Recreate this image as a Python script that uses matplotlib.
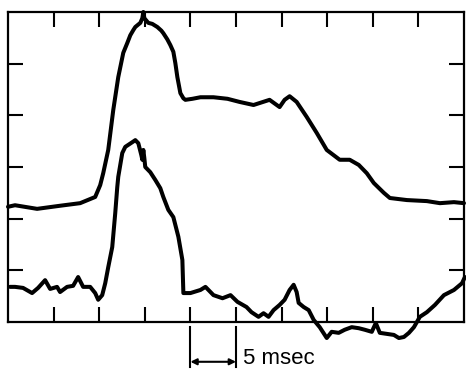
"""Two oscilloscope-style traces with a 5 msec scale bar."""

import matplotlib
matplotlib.use('Agg')
import matplotlib.pyplot as plt

# time in msec, amplitude in arbitrary units (frame spans 0..6)
upper_t = [0.0, 0.77, 3.19, 5.71, 7.91, 9.56, 10.11, 10.44, 10.99, 11.54, 12.09,
           12.64, 13.08, 13.41, 13.74, 13.96, 14.51, 14.73, 14.84, 14.95, 15.38,
           15.82, 16.37, 16.81, 17.03, 17.47, 17.80, 18.13, 18.35, 18.57, 18.90,
           19.23, 19.45, 20.22, 21.10, 22.53, 24.07, 25.38, 26.92, 28.68, 29.78,
           30.33, 30.88, 31.65, 32.75, 33.85, 34.95, 36.37, 37.47, 38.46, 39.34,
           40.11, 41.21, 41.87, 43.74, 45.93, 47.36, 48.90, 50.0]
upper_v = [2.23, 2.26, 2.19, 2.25, 2.30, 2.42, 2.65, 2.88, 3.33, 4.10, 4.74,
           5.21, 5.40, 5.55, 5.65, 5.71, 5.79, 5.88, 6.0, 5.88, 5.79,
           5.77, 5.71, 5.64, 5.59, 5.47, 5.36, 5.23, 5.01, 4.74, 4.43,
           4.33, 4.30, 4.32, 4.35, 4.35, 4.32, 4.26, 4.20, 4.30, 4.16,
           4.30, 4.37, 4.26, 3.97, 3.66, 3.33, 3.14, 3.14, 3.04, 2.88,
           2.69, 2.50, 2.40, 2.36, 2.34, 2.30, 2.32, 2.30]

lower_t = [0.22, 0.77, 1.65, 2.64, 3.30, 4.07, 4.62, 5.38, 5.71, 6.48, 7.14,
           7.69, 8.24, 9.01, 9.56, 9.89, 10.33, 10.66, 10.99, 11.43, 11.76,
           11.98, 12.09, 12.53, 12.86, 13.63, 13.96, 14.29, 14.62, 14.73, 14.84,
           14.95, 15.05, 15.60, 16.15, 16.70, 17.03, 17.58, 18.13, 18.68, 19.12,
           19.23, 20.00, 21.10, 21.65, 22.53, 23.52, 24.40, 25.16, 26.15, 26.70,
           27.47, 28.02, 28.57, 29.12, 29.78, 30.33, 30.88, 31.32, 31.65, 31.87,
           32.42, 32.97, 33.52, 34.18, 34.95, 35.49, 36.26, 36.92, 37.69, 38.46,
           39.12, 39.89, 40.33, 40.77, 41.54, 42.31, 42.86, 43.41, 43.96, 44.51,
           45.16, 45.93, 46.81, 47.80, 48.90, 49.78, 50.1]
lower_v = [0.68, 0.68, 0.66, 0.56, 0.66, 0.81, 0.64, 0.68, 0.58, 0.68, 0.70,
           0.87, 0.68, 0.68, 0.56, 0.43, 0.52, 0.75, 1.06, 1.45, 2.11,
           2.61, 2.81, 3.27, 3.39, 3.48, 3.52, 3.46, 3.23, 3.14, 3.33,
           3.17, 3.00, 2.90, 2.75, 2.59, 2.42, 2.17, 2.03, 1.65, 1.20,
           0.56, 0.56, 0.62, 0.68, 0.52, 0.46, 0.52, 0.39, 0.29, 0.19,
           0.10, 0.17, 0.10, 0.23, 0.33, 0.43, 0.62, 0.72, 0.58, 0.37,
           0.29, 0.23, 0.04, -0.10, -0.31, -0.19, -0.21, -0.15, -0.10, -0.12,
           -0.15, -0.19, -0.02, -0.21, -0.23, -0.25, -0.31, -0.29, -0.21, -0.10,
           0.10, 0.19, 0.33, 0.52, 0.62, 0.75, 0.87]

x_ticks = [5, 10, 15, 20, 25, 30, 35, 40, 45]
y_ticks = [1, 2, 3, 4, 5]
bar_start, bar_end = 20, 25
bar_label = "5 msec"

fig = plt.figure(figsize=(4.66, 3.71), dpi=100)
ax = fig.add_axes([8 / 466, 49 / 371, 456 / 466, 310 / 371])
ax.set_xlim(0, 50)
ax.set_ylim(0, 6)

ax.plot(upper_t, upper_v, color='black', lw=2.9, solid_capstyle='round',
        solid_joinstyle='round', clip_on=False)
ax.plot(lower_t, lower_v, color='black', lw=2.9, solid_capstyle='round',
        solid_joinstyle='round', clip_on=False)

for side in ax.spines.values():
    side.set_linewidth(1.6)

ax.set_xticks(x_ticks)
ax.set_yticks(y_ticks)
ax.tick_params(axis='both', direction='in', length=11, width=1.5,
               top=True, right=True, labelbottom=False, labelleft=False)

# scale bar under the frame
for xb in (bar_start, bar_end):
    ax.plot([xb, xb], [-0.1, -0.87], color='black', lw=1.5, clip_on=False)
ax.annotate('', xy=(bar_start, -0.77), xytext=(bar_end, -0.77),
            arrowprops=dict(arrowstyle='<|-|>', color='black', lw=1.5,
                            shrinkA=0, shrinkB=0, mutation_scale=9),
            annotation_clip=False)
ax.text(bar_end + 0.8, -0.70, bar_label, fontsize=16, family='Liberation Sans',
        va='center', ha='left')

fig.savefig('out.png', dpi=100)
